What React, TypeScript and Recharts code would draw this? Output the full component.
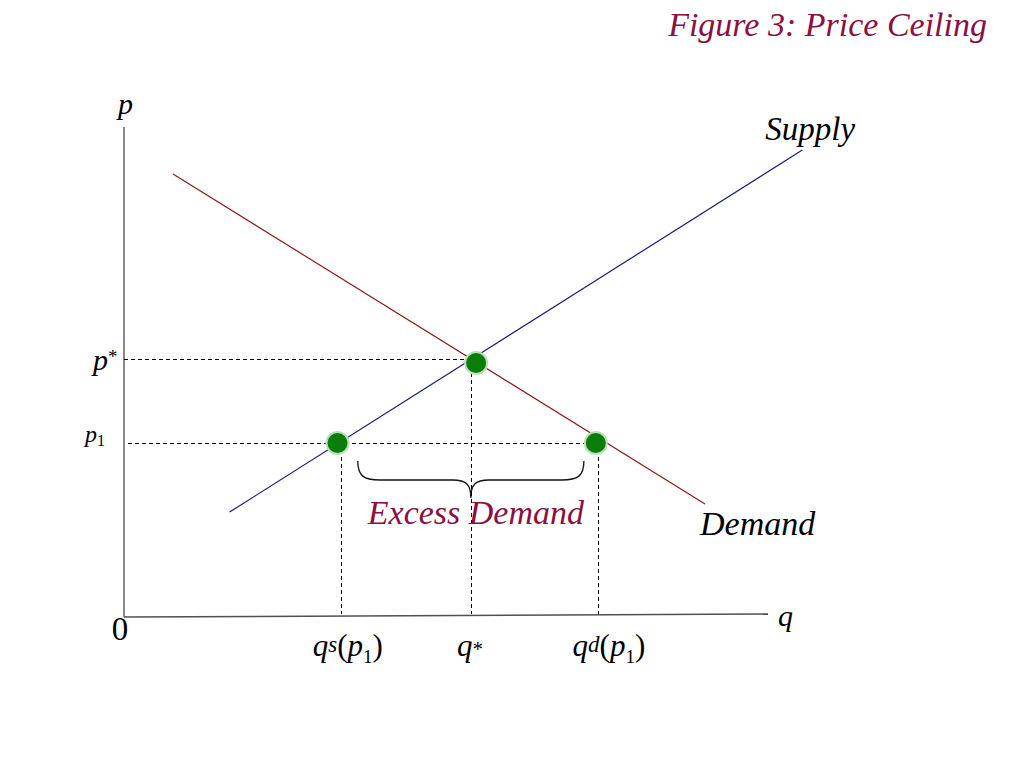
import React from "react";
import {
  ComposedChart,
  Line,
  Scatter,
  XAxis,
  YAxis,
  ReferenceLine,
  ReferenceDot,
} from "recharts";

// price / quantity data (q on x, p on y, both 0..100)
const supply = [
  { q: 15.1, p: 21 },
  { q: 96.9, p: 93.4 },
];
const demand = [
  { q: 7, p: 88.6 },
  { q: 83, p: 22.6 },
];
const points = [
  { q: 30.5, p: 34.8 },
  { q: 50.3, p: 50.8 },
  { q: 67.4, p: 34.8 },
];
const qMarks = [31.1, 49.7, 67.8]; // q^s(p1), q*, q^d(p1)
const pMarks = [34.8, 51.6]; // p1, p*
const braceEnds = [33.4, 65.7];
const braceTop = 31.2;
const yAxisTop = 98;
const xAxisEnd = { q: 92, p: 0.6 };

const xTickLabels = [
  { main: "q", sup: "s", sub: "1" },
  { main: "q", sup: "*", sub: "" },
  { main: "q", sup: "d", sub: "1" },
];
const yTickLabels = [
  { main: "p", sup: "", sub: "1" },
  { main: "p", sup: "*", sub: "" },
];

const serif = '"Liberation Serif", "Times New Roman", serif';
const maroon = "#8b0f3f";
const dash = "4 3";

const XTick = (props: any) => {
  const { x, y, index } = props;
  const lab = xTickLabels[index];
  const startOffsets = [-29, -15, -26];
  const star = lab.sup === "*";
  const supDy = star ? 0 : -4;
  return (
    <text x={x + startOffsets[index]} y={y + 39} fontFamily={serif} fontSize={31} fill="#000">
      <tspan fontStyle="italic">{lab.main}</tspan>
      <tspan fontSize={star ? 21 : 23} dy={supDy} fontStyle={star ? "normal" : "italic"}>
        {lab.sup}
      </tspan>
      {lab.sub && (
        <>
          <tspan dy={-supDy}>(</tspan>
          <tspan fontStyle="italic">p</tspan>
          <tspan fontSize={19} dy={7}>
            {lab.sub}
          </tspan>
          <tspan dy={-7}>)</tspan>
        </>
      )}
    </text>
  );
};

const YTick = (props: any) => {
  const { x, y, index } = props;
  const lab = yTickLabels[index];
  if (lab.sub) {
    return (
      <text x={x - 39} y={y - 1} fontFamily={serif} fontSize={24} fill="#000">
        <tspan fontStyle="italic">{lab.main}</tspan>
        <tspan fontSize={16} dy={4}>
          {lab.sub}
        </tspan>
      </text>
    );
  }
  return (
    <text x={x - 31} y={y + 11} fontFamily={serif} fontSize={30} fill="#000">
      <tspan fontStyle="italic">{lab.main}</tspan>
      <tspan fontSize={19} dy={-7}>
        {lab.sup}
      </tspan>
    </text>
  );
};

const textLabel =
  (text: string, dx: number, dy: number, opts: { size?: number; color?: string; italic?: boolean; anchor?: string } = {}) =>
  (props: any) => {
    const vb = props.viewBox || {};
    return (
      <text
        x={vb.x + dx}
        y={vb.y + dy}
        fontFamily={serif}
        fontSize={opts.size ?? 30}
        fontStyle={opts.italic === false ? "normal" : "italic"}
        fill={opts.color ?? "#000"}
        textAnchor={opts.anchor ?? "start"}
      >
        {text}
      </text>
    );
  };

const Brace = (props: any) => {
  const { x1, y1, x2 } = props;
  const xm = (x1 + x2) / 2;
  const arm = y1 + 19;
  const tip = y1 + 37;
  const d = [
    `M ${x1} ${y1}`,
    `C ${x1} ${y1 + 15} ${x1 + 6} ${arm} ${x1 + 22} ${arm}`,
    `L ${xm - 18} ${arm}`,
    `C ${xm - 5} ${arm} ${xm} ${arm + 4} ${xm} ${tip}`,
    `C ${xm} ${arm + 4} ${xm + 5} ${arm} ${xm + 18} ${arm}`,
    `L ${x2 - 22} ${arm}`,
    `C ${x2 - 6} ${arm} ${x2} ${y1 + 15} ${x2} ${y1}`,
  ].join(" ");
  return <path d={d} fill="none" stroke="#111" strokeWidth={1.3} />;
};

const GreenDot = (props: any) => (
  <circle cx={props.cx} cy={props.cy} r={11} fill="#0a7d0a" stroke="#b9dfb9" strokeWidth={2} />
);

export default function App() {
  const [qs, qStar, qd] = qMarks;
  const [p1, pStar] = pMarks;
  const guide = { stroke: "#000", strokeDasharray: dash, shapeRendering: "crispEdges" } as any;
  return (
    <div style={{ position: "absolute", left: 0, top: 0, width: 1024, height: 768, background: "#fff" }}>
      <div
        style={{
          position: "absolute",
          right: 37,
          top: 8,
          fontFamily: serif,
          fontStyle: "italic",
          fontSize: 34,
          lineHeight: "34px",
          color: maroon,
          whiteSpace: "nowrap",
        }}
      >
        Figure 3: Price Ceiling
      </div>
      <ComposedChart width={1024} height={768} margin={{ top: 117, right: 200, bottom: 121, left: 64 }}>
        <XAxis
          type="number"
          dataKey="q"
          domain={[0, 100]}
          ticks={qMarks}
          tick={<XTick />}
          axisLine={false}
          tickLine={false}
          tickSize={0}
          tickMargin={0}
          height={30}
          interval={0}
        />
        <YAxis
          type="number"
          dataKey="p"
          domain={[0, 100]}
          ticks={pMarks}
          tick={<YTick />}
          axisLine={false}
          tickLine={false}
          tickSize={0}
          tickMargin={0}
          width={60}
          interval={0}
        />

        {/* axes */}
        <ReferenceLine segment={[{ x: 0, y: 0 }, { x: 0, y: yAxisTop }]} stroke="#7a7a7a" strokeWidth={1.8} />
        <ReferenceLine segment={[{ x: 0, y: 0 }, { x: xAxisEnd.q, y: xAxisEnd.p }]} stroke="#505050" strokeWidth={1.5} />

        {/* dashed guides */}
        <ReferenceLine segment={[{ x: 0, y: pStar }, { x: qStar, y: pStar }]} {...guide} />
        <ReferenceLine segment={[{ x: 0.6, y: p1 }, { x: qd, y: p1 }]} {...guide} />
        <ReferenceLine segment={[{ x: qs, y: p1 }, { x: qs, y: 0.6 }]} {...guide} />
        <ReferenceLine segment={[{ x: qStar, y: pStar }, { x: qStar, y: 0.6 }]} {...guide} />
        <ReferenceLine segment={[{ x: qd, y: p1 }, { x: qd, y: 0.6 }]} {...guide} />

        {/* brace */}
        <ReferenceLine
          segment={[{ x: braceEnds[0], y: braceTop }, { x: braceEnds[1], y: braceTop }]}
          shape={<Brace />}
        />

        <Line data={demand} dataKey="p" stroke="#8b1c1c" strokeWidth={1.2} dot={false} isAnimationActive={false} />
        <Line data={supply} dataKey="p" stroke="#1c1c7c" strokeWidth={1.2} dot={false} isAnimationActive={false} />
        <Scatter data={points} dataKey="p" shape={<GreenDot />} isAnimationActive={false} />

        {/* text labels */}
        <ReferenceDot x={0} y={yAxisTop} r={0} label={textLabel("p", -6, -13)} />
        <ReferenceDot x={xAxisEnd.q} y={xAxisEnd.p} r={0} label={textLabel("q", 10, 12)} />
        <ReferenceDot x={0} y={0} r={0} label={textLabel("0", -4, 23, { size: 33, italic: false, anchor: "middle" })} />
        <ReferenceDot x={supply[1].q} y={supply[1].p} r={0} label={textLabel("Supply", -37, -10, { size: 33 })} />
        <ReferenceDot x={demand[1].q} y={demand[1].p} r={0} label={textLabel("Demand", -5, 31, { size: 34 })} />
        <ReferenceDot
          x={qStar}
          y={braceTop}
          r={0}
          label={textLabel("Excess Demand", 4, 63, { size: 34, color: maroon, anchor: "middle" })}
        />
      </ComposedChart>
    </div>
  );
}
